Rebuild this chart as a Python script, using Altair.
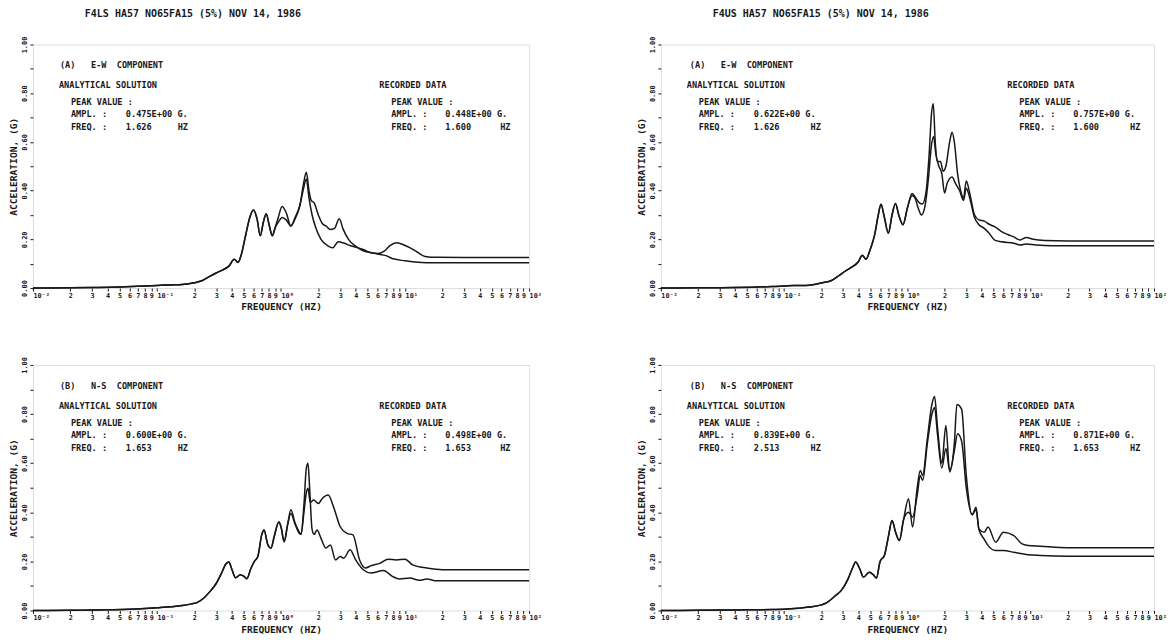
import json
import altair as alt
import pandas as pd

FONT = "DejaVu Sans Mono"
INK = "#181818"

# ---------------- data ----------------
# Top-left panel: F4LS, (A) E-W component
TL_A_F = [0.01, 0.02, 0.03, 0.05, 0.07, 0.1, 0.13, 0.16, 0.2, 0.23, 0.26, 0.3, 0.34, 0.38, 0.42, 0.45, 0.48,
          0.52, 0.56, 0.6, 0.64, 0.68, 0.72, 0.76, 0.8, 0.85, 0.9, 0.95, 1.02, 1.1, 1.2, 1.3, 1.42, 1.52, 1.6,
          1.68, 1.75, 1.85, 2.0, 2.15, 2.3, 2.5, 2.7, 2.95, 3.15, 3.5, 4.0, 4.5, 5.0, 6.0, 7.0, 8.0, 10.0, 12.0,
          15.0, 20.0, 50.0, 100.0]
TL_A_V = [0.0, 0.001, 0.002, 0.004, 0.007, 0.011, 0.013, 0.015, 0.022, 0.03, 0.045, 0.062, 0.075, 0.09, 0.118,
          0.105, 0.14, 0.22, 0.29, 0.32, 0.285, 0.215, 0.27, 0.305, 0.262, 0.215, 0.25, 0.29, 0.335, 0.31, 0.255,
          0.285, 0.34, 0.43, 0.475, 0.4, 0.36, 0.35, 0.3, 0.265, 0.255, 0.24, 0.245, 0.285, 0.245, 0.2, 0.172,
          0.155, 0.148, 0.14, 0.133, 0.12, 0.112, 0.107, 0.104, 0.104, 0.104, 0.104]
TL_R_F = [0.01, 0.02, 0.03, 0.05, 0.07, 0.1, 0.13, 0.16, 0.2, 0.23, 0.26, 0.3, 0.34, 0.38, 0.42, 0.45, 0.48,
          0.52, 0.56, 0.6, 0.64, 0.68, 0.72, 0.76, 0.8, 0.85, 0.9, 0.95, 1.02, 1.1, 1.2, 1.3, 1.42, 1.52, 1.6,
          1.68, 1.78, 1.9, 2.1, 2.4, 2.6, 2.9, 3.2, 3.6, 4.0, 4.6, 5.3, 6.0, 6.8, 7.6, 8.5, 9.5, 11.0, 12.5,
          14.5, 18.0, 30.0, 100.0]
TL_R_V = [0.0, 0.001, 0.002, 0.004, 0.007, 0.011, 0.013, 0.015, 0.022, 0.03, 0.045, 0.062, 0.075, 0.09, 0.118,
          0.105, 0.14, 0.22, 0.29, 0.32, 0.285, 0.215, 0.27, 0.305, 0.262, 0.215, 0.25, 0.27, 0.29, 0.28, 0.255,
          0.29, 0.34, 0.41, 0.448, 0.37, 0.3, 0.25, 0.2, 0.172, 0.165, 0.19, 0.185, 0.175, 0.168, 0.158, 0.145,
          0.142, 0.152, 0.175, 0.186, 0.18, 0.165, 0.148, 0.13, 0.126, 0.125, 0.125]

# Top-right panel: F4US, (A) E-W component
TR_A_F = [0.01, 0.02, 0.04, 0.06, 0.08, 0.1, 0.12, 0.15, 0.18, 0.21, 0.24, 0.28, 0.31, 0.35, 0.4, 0.43, 0.46,
          0.5, 0.54, 0.58, 0.61, 0.65, 0.7, 0.75, 0.8, 0.85, 0.92, 1.0, 1.09, 1.15, 1.22, 1.3, 1.38, 1.48, 1.56,
          1.63, 1.7, 1.8, 1.9, 2.0, 2.1, 2.3, 2.45, 2.65, 2.85, 3.0, 3.2, 3.5, 3.8, 4.2, 4.6, 5.1, 5.8, 7.3,
          8.2, 9.2, 11.0, 15.0, 100.0]
TR_A_V = [0.0, 0.001, 0.002, 0.004, 0.006, 0.008, 0.011, 0.011, 0.016, 0.023, 0.03, 0.052, 0.068, 0.085, 0.108,
          0.135, 0.118, 0.16, 0.215, 0.3, 0.344, 0.29, 0.225, 0.3, 0.347, 0.3, 0.26, 0.33, 0.38, 0.37, 0.33,
          0.3, 0.33, 0.45, 0.58, 0.622, 0.55, 0.5, 0.47, 0.39, 0.43, 0.456, 0.43, 0.4, 0.36, 0.41, 0.37, 0.29,
          0.26, 0.245, 0.225, 0.197, 0.19, 0.184, 0.177, 0.181, 0.177, 0.174, 0.174]
TR_R_F = [0.01, 0.02, 0.04, 0.06, 0.08, 0.1, 0.12, 0.15, 0.18, 0.21, 0.24, 0.28, 0.31, 0.35, 0.4, 0.43, 0.46,
          0.5, 0.54, 0.58, 0.61, 0.65, 0.7, 0.75, 0.8, 0.85, 0.92, 1.0, 1.09, 1.15, 1.25, 1.32, 1.42, 1.5, 1.57,
          1.62, 1.68, 1.75, 1.85, 1.95, 2.05, 2.2, 2.3, 2.4, 2.55, 2.7, 2.85, 3.0, 3.2, 3.5, 3.8, 4.2, 4.6, 5.1,
          5.8, 6.5, 7.3, 8.2, 9.2, 10.5, 13.0, 20.0, 100.0]
TR_R_V = [0.0, 0.001, 0.002, 0.004, 0.006, 0.008, 0.011, 0.011, 0.016, 0.023, 0.03, 0.052, 0.068, 0.085, 0.108,
          0.135, 0.118, 0.16, 0.215, 0.3, 0.344, 0.29, 0.225, 0.3, 0.347, 0.3, 0.26, 0.33, 0.388, 0.375, 0.35,
          0.345, 0.4, 0.55, 0.72, 0.757, 0.6, 0.52, 0.52, 0.48, 0.5, 0.6, 0.64, 0.6, 0.47, 0.4, 0.37, 0.44,
          0.39, 0.3, 0.28, 0.275, 0.262, 0.252, 0.232, 0.22, 0.21, 0.197, 0.208, 0.2, 0.195, 0.193, 0.193]

# Bottom-left panel: F4LS, (B) N-S component
BL_A_F = [0.01, 0.02, 0.04, 0.06, 0.08, 0.1, 0.13, 0.16, 0.19, 0.21, 0.24, 0.27, 0.3, 0.33, 0.36, 0.38, 0.4,
          0.43, 0.47, 0.5, 0.53, 0.57, 0.61, 0.65, 0.7, 0.73, 0.78, 0.83, 0.88, 0.96, 1.0, 1.06, 1.13, 1.2, 1.3,
          1.4, 1.45, 1.53, 1.6, 1.65, 1.7, 1.78, 1.85, 1.95, 2.1, 2.3, 2.5, 2.75, 3.0, 3.2, 3.6, 4.0, 4.6, 5.3,
          6.7, 7.9, 9.0, 11.0, 13.0, 15.0, 18.0, 100.0]
BL_A_V = [0.0, 0.001, 0.003, 0.005, 0.008, 0.011, 0.015, 0.02, 0.027, 0.032, 0.052, 0.08, 0.11, 0.15, 0.19,
          0.198, 0.17, 0.133, 0.146, 0.14, 0.129, 0.17, 0.2, 0.22, 0.31, 0.328, 0.27, 0.254, 0.3, 0.36, 0.34,
          0.28, 0.35, 0.41, 0.355, 0.32, 0.31, 0.43, 0.58, 0.6, 0.5, 0.33, 0.31, 0.328, 0.294, 0.254, 0.267,
          0.206, 0.22, 0.213, 0.247, 0.206, 0.166, 0.153, 0.163, 0.139, 0.128, 0.132, 0.123, 0.128, 0.121, 0.121]
BL_R_F = [0.01, 0.02, 0.04, 0.06, 0.08, 0.1, 0.13, 0.16, 0.19, 0.21, 0.24, 0.27, 0.3, 0.33, 0.36, 0.38, 0.4,
          0.43, 0.47, 0.5, 0.53, 0.57, 0.61, 0.65, 0.7, 0.73, 0.78, 0.83, 0.88, 0.96, 1.0, 1.06, 1.13, 1.2, 1.3,
          1.4, 1.45, 1.53, 1.6, 1.65, 1.72, 1.83, 2.0, 2.15, 2.4, 2.65, 3.0, 3.4, 3.8, 4.3, 4.8, 5.3, 6.3, 7.3,
          8.5, 10.0, 11.5, 15.0, 20.0, 100.0]
BL_R_V = [0.0, 0.001, 0.003, 0.005, 0.008, 0.011, 0.015, 0.02, 0.027, 0.032, 0.052, 0.08, 0.11, 0.15, 0.19,
          0.198, 0.17, 0.133, 0.146, 0.14, 0.129, 0.17, 0.2, 0.22, 0.31, 0.328, 0.27, 0.254, 0.3, 0.36, 0.34,
          0.28, 0.35, 0.395, 0.35, 0.315, 0.31, 0.4, 0.48, 0.498, 0.44, 0.45, 0.436, 0.456, 0.47, 0.422, 0.341,
          0.314, 0.308, 0.206, 0.173, 0.182, 0.193, 0.209, 0.206, 0.209, 0.186, 0.173, 0.166, 0.166]

# Bottom-right panel: F4US, (B) N-S component
BR_A_F = [0.01, 0.02, 0.04, 0.06, 0.08, 0.1, 0.13, 0.16, 0.2, 0.22, 0.26, 0.29, 0.33, 0.36, 0.38, 0.41, 0.44,
          0.49, 0.53, 0.56, 0.6, 0.65, 0.7, 0.75, 0.8, 0.86, 0.93, 1.02, 1.1, 1.2, 1.27, 1.33, 1.45, 1.58, 1.66,
          1.75, 1.9, 2.05, 2.2, 2.4, 2.52, 2.75, 3.0, 3.35, 3.6, 3.8, 4.2, 4.5, 5.2, 6.0, 7.3, 8.5, 9.5, 12.0,
          20.0, 100.0]
BR_A_V = [0.0, 0.001, 0.002, 0.003, 0.004, 0.005, 0.009, 0.014, 0.023, 0.031, 0.06, 0.081, 0.129, 0.175, 0.197,
          0.17, 0.136, 0.156, 0.145, 0.132, 0.2, 0.224, 0.3, 0.366, 0.32, 0.285, 0.37, 0.4, 0.38, 0.47, 0.55,
          0.53, 0.68, 0.8, 0.827, 0.72, 0.58, 0.66, 0.57, 0.68, 0.839, 0.82, 0.55, 0.39, 0.41, 0.33, 0.29,
          0.265, 0.244, 0.244, 0.237, 0.231, 0.227, 0.224, 0.221, 0.221]
BR_R_F = [0.01, 0.02, 0.04, 0.06, 0.08, 0.1, 0.13, 0.16, 0.2, 0.22, 0.26, 0.29, 0.33, 0.36, 0.38, 0.41, 0.44,
          0.49, 0.53, 0.56, 0.6, 0.65, 0.7, 0.75, 0.8, 0.86, 0.93, 1.02, 1.1, 1.2, 1.27, 1.33, 1.45, 1.58, 1.66,
          1.75, 1.9, 2.05, 2.2, 2.4, 2.55, 2.75, 3.0, 3.35, 3.6, 3.8, 4.2, 4.5, 5.2, 6.0, 7.3, 8.5, 9.5, 12.0,
          20.0, 100.0]
BR_R_V = [0.0, 0.001, 0.002, 0.003, 0.004, 0.005, 0.009, 0.014, 0.023, 0.031, 0.06, 0.081, 0.129, 0.175, 0.197,
          0.17, 0.136, 0.156, 0.145, 0.132, 0.2, 0.224, 0.3, 0.366, 0.32, 0.285, 0.37, 0.455, 0.34, 0.5, 0.57,
          0.55, 0.7, 0.84, 0.871, 0.75, 0.6, 0.753, 0.564, 0.65, 0.72, 0.69, 0.5, 0.39, 0.42, 0.332, 0.319,
          0.34, 0.278, 0.319, 0.305, 0.271, 0.265, 0.262, 0.256, 0.256]

TITLE_L = "F4LS HA57 NO65FA15 (5%) NOV 14, 1986"
TITLE_R = "F4US HA57 NO65FA15 (5%) NOV 14, 1986"

NB = "\u00a0"
HEAD_A = "(A)" + NB * 3 + "E-W" + NB * 2 + "COMPONENT"
HEAD_B = "(B)" + NB * 3 + "N-S" + NB * 2 + "COMPONENT"
PEAKS = {
    "TL": ("0.475E+00 G.", "1.626", "0.448E+00 G.", "1.600"),
    "TR": ("0.622E+00 G.", "1.626", "0.757E+00 G.", "1.600"),
    "BL": ("0.600E+00 G.", "1.653", "0.498E+00 G.", "1.653"),
    "BR": ("0.839E+00 G.", "2.513", "0.871E+00 G.", "1.653"),
}

X_TICKS = [0.01, 0.02, 0.03, 0.04, 0.05, 0.06, 0.07, 0.08, 0.09,
           0.1, 0.2, 0.3, 0.4, 0.5, 0.6, 0.7, 0.8, 0.9,
           1, 2, 3, 4, 5, 6, 7, 8, 9,
           10, 20, 30, 40, 50, 60, 70, 80, 90, 100]
X_LABELS = ["10⁻²", "2", "3", "4", "5", "6", "7", "8", "9",
            "10⁻¹", "2", "3", "4", "5", "6", "7", "8", "9",
            "10⁰", "2", "3", "4", "5", "6", "7", "8", "9",
            "10¹", "2", "3", "4", "5", "6", "7", "8", "9", "10²"]
X_DECADES = [0.01, 0.1, 1, 10, 100]
Y_TICKS = [0.0, 0.1, 0.2, 0.3, 0.4, 0.5, 0.6, 0.7, 0.8, 0.9, 1.0]
Y_LABELS = ["0.00", "", "0.20", "", "0.40", "", "0.60", "", "0.80", "", "1.00"]

X_EXPR = "%s[indexof(%s, datum.value)]" % (json.dumps(X_LABELS, ensure_ascii=False), json.dumps(X_TICKS))
Y_EXPR = "%s[indexof(%s, datum.value)]" % (json.dumps(Y_LABELS), json.dumps(Y_TICKS))
DECADE_TEST = "indexof(%s, datum.value) >= 0" % json.dumps(X_DECADES)

ONE = pd.DataFrame({"k": [0]})


def note(text, x, y):
    return alt.Chart(ONE).mark_text(
        align="left", baseline="middle", font=FONT, fontSize=8.6, fontWeight="bold", color=INK
    ).encode(x=alt.value(x), y=alt.value(y), text=alt.value(text))


def panel(fa, va, fr, vr, head, peaks, width, height, title=None, hz_off=0):
    df = pd.concat([
        pd.DataFrame({"f": fa, "v": va, "s": "Analytical solution"}),
        pd.DataFrame({"f": fr, "v": vr, "s": "Recorded data"}),
    ])
    x = alt.X("f:Q",
              scale=alt.Scale(type="log", domain=[0.01, 100], nice=False),
              axis=alt.Axis(values=X_TICKS, labelExpr=X_EXPR, title="FREQUENCY (HZ)",
                            grid=False, domain=False, tickSize=3, tickColor=INK, labelPadding=1,
                            labelAlign={"condition": {"test": DECADE_TEST, "value": "left"}, "value": "center"},
                            labelFont=FONT, labelFontSize=6.8, labelFontWeight="bold", labelColor=INK,
                            labelOverlap=False, labelFlush=False,
                            titleFont=FONT, titleFontSize=9.6, titleFontWeight="bold", titleColor=INK,
                            titlePadding=3))
    y = alt.Y("v:Q",
              scale=alt.Scale(domain=[0, 1], nice=False),
              axis=alt.Axis(values=Y_TICKS, labelExpr=Y_EXPR, title="ACCELERATION, (G)",
                            grid=False, domain=False, tickSize=3, tickColor=INK, labelPadding=2,
                            labelAngle=270, labelFont=FONT, labelFontSize=7, labelFontWeight="bold",
                            labelColor=INK, labelOverlap=False, labelFlush=False,
                            titleFont=FONT, titleFontSize=9.6, titleFontWeight="bold", titleColor=INK,
                            titlePadding=2))
    lines = alt.Chart(df).mark_line(color=INK, strokeWidth=1.5, interpolate="monotone").encode(
        x=x, y=y, detail="s:N")
    a_ampl, a_freq, r_ampl, r_freq = peaks
    notes = [
        note(head, 27 + hz_off // 2, 21),
        note("ANALYTICAL SOLUTION", 26, 41),
        note("PEAK VALUE :", 38, 58),
        note("AMPL. :", 38, 70), note(a_ampl, 93, 70),
        note("FREQ. :", 38, 83), note(a_freq, 93, 83), note("HZ", 145 + hz_off, 83),
        note("RECORDED DATA", 347, 41),
        note("PEAK VALUE :", 359, 58),
        note("AMPL. :", 359, 70), note(r_ampl, 413, 70),
        note("FREQ. :", 359, 83), note(r_freq, 413, 83), note("HZ", 468 + hz_off // 2, 83),
    ]
    ch = alt.layer(lines, *notes).properties(width=width, height=height)
    if title:
        ch = ch.properties(title=alt.TitleParams(
            title, anchor="start", frame="group", dx=52, offset=17, font=FONT, fontSize=10,
            fontWeight="bold", color=INK))
    return ch


tl = panel(TL_A_F, TL_A_V, TL_R_F, TL_R_V, HEAD_A, PEAKS["TL"], 497, 244, TITLE_L)
tr = panel(TR_A_F, TR_A_V, TR_R_F, TR_R_V, HEAD_A, PEAKS["TR"], 494, 244, TITLE_R, hz_off=5)
bl = panel(BL_A_F, BL_A_V, BL_R_F, BL_R_V, HEAD_B, PEAKS["BL"], 497, 246)
br = panel(BR_A_F, BR_A_V, BR_R_F, BR_R_V, HEAD_B, PEAKS["BR"], 494, 246, hz_off=5)

chart = alt.concat(tl, tr, bl, br, columns=2, spacing={"row": 77, "column": 132},
                   bounds="flush").properties(
    padding={"left": 0, "top": 0, "right": 0, "bottom": 0}
).configure_view(stroke=INK, strokeWidth=1.3).configure(background="white")

chart.save("out.html", embed_options={"renderer": "svg", "actions": False})
